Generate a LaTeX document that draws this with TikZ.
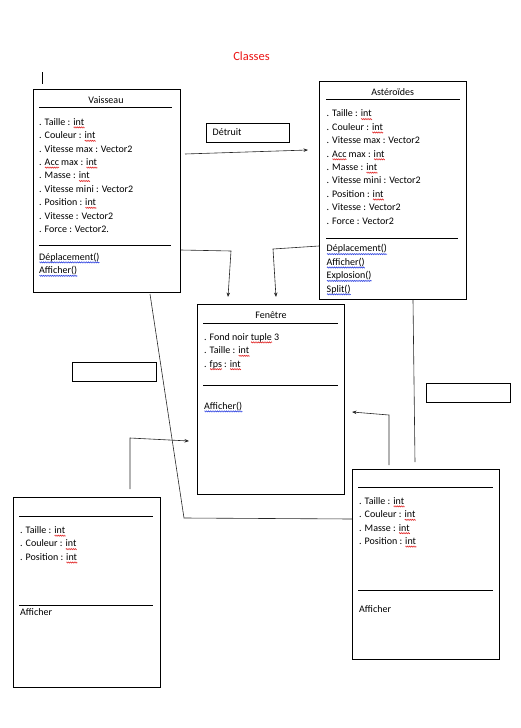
\documentclass[tikz,border=0pt]{standalone}
\usepackage{fontspec}
\setmainfont{Carlito}
\usepackage{xcolor}
\usetikzlibrary{arrows.meta,positioning,calc,decorations.pathmorphing}
\definecolor{TitreRouge}{RGB}{235,20,20}
\definecolor{SpellRed}{RGB}{225,40,40}
\definecolor{SpellBlue}{RGB}{50,70,225}
% soulignements ondules (correcteur)
\newsavebox{\sqbox}
\newlength{\sqlen}
\newcommand{\sqline}[2]{\sbox{\sqbox}{#2}\setlength{\sqlen}{\wd\sqbox}%
  \rlap{\tikz[x=1pt,y=1pt,baseline=0pt]\draw[#1,line width=0.5pt,decorate,
    decoration={zigzag,amplitude=0.6pt,segment length=1.8pt}] (0,-2.2) -- (\sqlen,-2.2);}%
  \usebox{\sqbox}}
\newcommand{\sqr}[1]{\sqline{SpellRed}{#1}}
\newcommand{\sqb}[1]{\sqline{SpellBlue}{#1}}
\newcommand{\hd}{\rule{0pt}{8pt}}
\tikzset{
  cls/.style={draw=black,line width=0.9pt,anchor=north west,inner sep=0pt},
  note/.style={draw=black,line width=0.9pt,anchor=north west,inner sep=0pt},
  ctitle/.style={font=\fontsize{10}{12}\selectfont,inner sep=0pt,anchor=base},
  attr/.style={anchor=north west,align=left,inner sep=0pt,
               font=\fontsize{10}{13.4}\selectfont},
  sep/.style={line width=0.8pt},
  lien/.style={line width=0.6pt,black!85},
  fl/.style={lien,-{Stealth[length=4.5pt,width=3.5pt]}},
}

\begin{document}
\begin{tikzpicture}[x=1pt,y=-1pt]
  \useasboundingbox (0,0) rectangle (521,728);
  \node[TitreRouge,font=\fontsize{12.5}{14}\selectfont,inner sep=0pt,anchor=base] (titre) at (251.5,60.7) {Classes};
  \coordinate (t1) at (42,72); \coordinate (t2) at (42,84);
  \draw[line width=0.8pt] (t1) -- (t2);

  % Vaisseau
  \node[cls,minimum width=147pt,minimum height=203pt] (vais) at (33,89) {};
  \node[ctitle] (vaisT) at (106,103.3) {Vaisseau};
  \draw[sep] (39,107) -- (172,107);
  \node[attr] (vaisA) at (39,117) {\hd. Taille : \sqr{int}\\
    . Couleur : \sqr{int}\\
    . Vitesse max : Vector2\\
    . \sqr{Acc} max : \sqr{int}\\
    . Masse : \sqr{int}\\
    . Vitesse mini : Vector2\\
    . Position : \sqr{int}\\
    . Vitesse : Vector2\\
    . Force : Vector2.};
  \draw[sep] (39,245) -- (171,245);
  \node[attr] (vaisM) at (39,252) {\hd\sqb{Déplacement()}\\ \sqb{Afficher()}};

  % Asteroides
  \node[cls,minimum width=147pt,minimum height=218pt] (ast) at (319,81) {};
  \node[ctitle] (astT) at (392.7,95) {Astéroïdes};
  \draw[sep] (326,99) -- (460,99);
  \node[attr] (astA) at (326.5,108.7) {\hd. Taille : \sqr{int}\\
    . Couleur : \sqr{int}\\
    . Vitesse max : Vector2\\
    . \sqr{Acc} max : \sqr{int}\\
    . Masse : \sqr{int}\\
    . Vitesse mini : Vector2\\
    . Position : \sqr{int}\\
    . Vitesse : Vector2\\
    . Force : Vector2};
  \draw[sep] (326,238) -- (458,238);
  \node[attr] (astM) at (326.5,243.7) {\hd\sqb{Déplacement()}\\ \sqb{Afficher()}\\
    \sqb{Explosion()}\\ \sqb{Split()}};

  % Fenetre
  \node[cls,minimum width=147pt,minimum height=190pt] (fen) at (197,304) {};
  \node[ctitle] (fenT) at (271,318.3) {Fenêtre};
  \draw[sep] (203,323) -- (338,323);
  \node[attr] (fenA) at (204,332) {\hd. Fond noir \sqr{tuple} 3\\
    . Taille : \sqr{int}\\
    . \sqr{fps} : \sqr{int}};
  \draw[sep] (203,385) -- (338,385);
  \node[attr] (fenM) at (204,401) {\hd\sqb{Afficher()}};

  % boites du bas
  \node[cls,minimum width=147pt,minimum height=190pt] (bg) at (13,497) {};
  \draw[sep] (19,516) -- (153,516);
  \node[attr] (bgA) at (20,525.3) {\hd. Taille : \sqr{int}\\
    . Couleur : \sqr{int}\\
    . Position : \sqr{int}};
  \draw[sep] (19,605) -- (153,605);
  \node[attr] (bgM) at (20,607) {\hd Afficher};

  \node[cls,minimum width=147pt,minimum height=190pt] (bd) at (352,469) {};
  \draw[sep] (358,487) -- (493,487);
  \node[attr] (bdA) at (359,496) {\hd. Taille : \sqr{int}\\
    . Couleur : \sqr{int}\\
    . Masse : \sqr{int}\\
    . Position : \sqr{int}};
  \draw[sep] (358,590) -- (493,590);
  \node[attr] (bdM) at (359,604.7) {\hd Afficher};

  % etiquettes
  \node[note,minimum width=83pt,minimum height=19pt] (detr) at (206,123) {};
  \node[attr,anchor=base west] (detrT) at (212.5,135.7) {Détruit};
  \node[note,minimum width=84pt,minimum height=19pt] (n1) at (72,362) {};
  \node[note,minimum width=84pt,minimum height=19pt] (n2) at (426,383) {};

  % liens
  \coordinate (d1) at (185,154); \coordinate (d2) at (308,150);
  \draw[fl] (d1) -- (d2);
  \coordinate (v1) at (231,251); \coordinate (v2) at (228,297);
  \draw[fl] (vais.east |- 0,250) -- (v1) -- (v2);
  \coordinate (a1) at (273,249); \coordinate (a2) at (276,297);
  \draw[fl] (ast.west |- 0,246) -- (a1) -- (a2);
  \coordinate (c1) at (184,518);
  \draw[lien] (150,294) -- (c1) -- (bd.west |- 0,519);
  \coordinate (a3) at (415,462);
  \draw[lien] (ast.south -| 413,0) -- (a3);
  \coordinate (b1) at (389,465); \coordinate (b2) at (389,415); \coordinate (b3) at (352,412);
  \draw[fl] (b1) -- (b2) -- (b3);
  \coordinate (g1) at (130,489); \coordinate (g2) at (130,438); \coordinate (g3) at (189,441);
  \draw[fl] (g1) -- (g2) -- (g3);
\end{tikzpicture}
\end{document}
